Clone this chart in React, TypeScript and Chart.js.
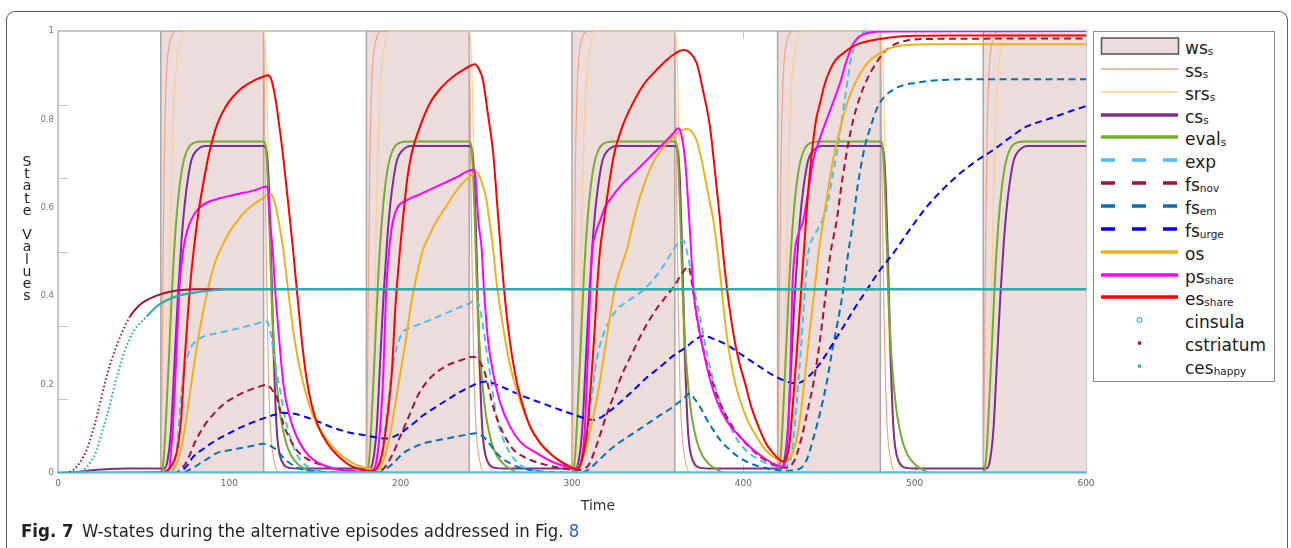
import React, { useEffect, useRef } from "react";
import { Chart, registerables } from "chart.js";

Chart.register(...registerables);

type P = [number, number];

// ---------- axis ticks ----------
const timeTicks = [0, 100, 200, 300, 400, 500, 600];
const valueTicks = [0, 0.2, 0.4, 0.6, 0.8, 1];
const valueTickLabels = ["0", "0.2", "0.4", "0.6", "0.8", "1"];
const valueMinorTicks = [0.167, 0.333, 0.5, 0.667, 0.833];
const timeMinorTicks = [100, 200, 300, 400, 500];

// ---------- series (time, value) ----------
const wsValues: P[] = [
  [0, 0], [60, 1], [120, 0], [180, 1], [240, 0], [300, 1], [360, 0], [420, 1], [480, 0], [540, 1], [600, 1],
];

const ssValues: P[] = [
  [0, 0], [60, 0], [61, 0.35], [62, 0.7], [63, 0.87], [64, 0.94], [66, 0.985], [69, 1], [120, 1], [121, 0.65], [122, 0.38], [123, 0.2], [124, 0.1], [126, 0.03], [129, 0],
  [180, 0], [181, 0.35], [182, 0.7], [183, 0.87], [184, 0.94], [186, 0.985], [189, 1], [240, 1], [241, 0.65], [242, 0.38], [243, 0.2], [244, 0.1], [246, 0.03], [249, 0],
  [300, 0], [301, 0.35], [302, 0.7], [303, 0.87], [304, 0.94], [306, 0.985], [309, 1], [360, 1], [361, 0.65], [362, 0.38], [363, 0.2], [364, 0.1], [366, 0.03], [369, 0],
  [420, 0], [421, 0.35], [422, 0.7], [423, 0.87], [424, 0.94], [426, 0.985], [429, 1], [480, 1], [481, 0.65], [482, 0.38], [483, 0.2], [484, 0.1], [486, 0.03], [489, 0],
  [540, 0], [541, 0.35], [542, 0.7], [543, 0.87], [544, 0.94], [546, 0.985], [549, 1], [600, 1],
];

const srsValues: P[] = [
  [0, 0], [60, 0], [62, 0.03], [64, 0.2], [65, 0.42], [66, 0.62], [67, 0.77], [69, 0.92], [71, 0.97], [74, 1], [120, 1], [121, 0.97], [122, 0.85], [123, 0.65], [124, 0.45], [125, 0.3], [127, 0.13], [129, 0.05], [132, 0.01], [135, 0],
  [180, 0], [182, 0.03], [184, 0.2], [185, 0.42], [186, 0.62], [187, 0.77], [189, 0.92], [191, 0.97], [194, 1], [240, 1], [241, 0.97], [242, 0.85], [243, 0.65], [244, 0.45], [245, 0.3], [247, 0.13], [249, 0.05], [252, 0.01], [255, 0],
  [300, 0], [302, 0.03], [304, 0.2], [305, 0.42], [306, 0.62], [307, 0.77], [309, 0.92], [311, 0.97], [314, 1], [360, 1], [361, 0.97], [362, 0.85], [363, 0.65], [364, 0.45], [365, 0.3], [367, 0.13], [369, 0.05], [372, 0.01], [375, 0],
  [420, 0], [422, 0.03], [424, 0.2], [425, 0.42], [426, 0.62], [427, 0.77], [429, 0.92], [431, 0.97], [434, 1], [480, 1], [481, 0.97], [482, 0.85], [483, 0.65], [484, 0.45], [485, 0.3], [487, 0.13], [489, 0.05], [492, 0.01], [495, 0],
  [540, 0], [542, 0.03], [544, 0.2], [545, 0.42], [546, 0.62], [547, 0.77], [549, 0.92], [551, 0.97], [554, 1], [600, 1],
];

const csValues: P[] = [
  [0, 0], [10, 0.002], [20, 0.006], [30, 0.009], [40, 0.01],
  [62, 0.01], [64, 0.03], [66, 0.1], [68, 0.25], [70, 0.4], [72, 0.52], [74, 0.61], [76, 0.67], [78, 0.71], [81, 0.73], [86, 0.74], [120, 0.74], [121, 0.737], [122, 0.72], [123, 0.66], [124, 0.54], [125, 0.4], [126, 0.26], [127, 0.15], [128, 0.08], [129.5, 0.04], [132, 0.018], [136, 0.011], [140, 0.01],
  [182, 0.01], [184, 0.03], [186, 0.1], [188, 0.25], [190, 0.4], [192, 0.52], [194, 0.61], [196, 0.67], [198, 0.71], [201, 0.73], [206, 0.74], [240, 0.74], [241, 0.737], [242, 0.72], [243, 0.66], [244, 0.54], [245, 0.4], [246, 0.26], [247, 0.15], [248, 0.08], [249.5, 0.04], [252, 0.018], [256, 0.011], [260, 0.01],
  [302, 0.01], [304, 0.03], [306, 0.1], [308, 0.25], [310, 0.4], [312, 0.52], [314, 0.61], [316, 0.67], [318, 0.71], [321, 0.73], [326, 0.74], [360, 0.74], [361, 0.737], [362, 0.72], [363, 0.66], [364, 0.54], [365, 0.4], [366, 0.26], [367, 0.15], [368, 0.08], [369.5, 0.04], [372, 0.018], [376, 0.011], [380, 0.01],
  [422, 0.01], [424, 0.03], [426, 0.1], [428, 0.25], [430, 0.4], [432, 0.52], [434, 0.61], [436, 0.67], [438, 0.71], [441, 0.73], [446, 0.74], [480, 0.74], [481, 0.737], [482, 0.72], [483, 0.66], [484, 0.54], [485, 0.4], [486, 0.26], [487, 0.15], [488, 0.08], [489.5, 0.04], [492, 0.018], [496, 0.011], [500, 0.01],
  [542, 0.01], [544, 0.03], [546, 0.1], [548, 0.25], [550, 0.4], [552, 0.52], [554, 0.61], [556, 0.67], [558, 0.71], [561, 0.73], [566, 0.74], [600, 0.74],
];

const evalValues: P[] = [
  [0, 0], [60, 0], [61, 0.01], [62, 0.05], [63, 0.12], [65, 0.28], [67, 0.45], [69, 0.57], [71, 0.65], [73, 0.7], [76, 0.735], [80, 0.748], [85, 0.75], [120, 0.75], [121, 0.745], [122, 0.7], [123, 0.6], [124, 0.48], [125, 0.37], [126, 0.29], [128, 0.19], [130, 0.125], [133, 0.07], [136, 0.04], [140, 0.02], [145, 0.007], [150, 0],
  [180, 0], [181, 0.01], [182, 0.05], [183, 0.12], [185, 0.28], [187, 0.45], [189, 0.57], [191, 0.65], [193, 0.7], [196, 0.735], [200, 0.748], [205, 0.75], [240, 0.75], [241, 0.745], [242, 0.7], [243, 0.6], [244, 0.48], [245, 0.37], [246, 0.29], [248, 0.19], [250, 0.125], [253, 0.07], [256, 0.04], [260, 0.02], [265, 0.007], [270, 0],
  [300, 0], [301, 0.01], [302, 0.05], [303, 0.12], [305, 0.28], [307, 0.45], [309, 0.57], [311, 0.65], [313, 0.7], [316, 0.735], [320, 0.748], [325, 0.75], [360, 0.75], [361, 0.745], [362, 0.7], [363, 0.6], [364, 0.48], [365, 0.37], [366, 0.29], [368, 0.19], [370, 0.125], [373, 0.07], [376, 0.04], [380, 0.02], [385, 0.007], [390, 0],
  [420, 0], [421, 0.01], [422, 0.05], [423, 0.12], [425, 0.28], [427, 0.45], [429, 0.57], [431, 0.65], [433, 0.7], [436, 0.735], [440, 0.748], [445, 0.75], [480, 0.75], [481, 0.745], [482, 0.7], [483, 0.6], [484, 0.48], [485, 0.37], [486, 0.29], [488, 0.19], [490, 0.125], [493, 0.07], [496, 0.04], [500, 0.02], [505, 0.007], [510, 0],
  [540, 0], [541, 0.01], [542, 0.05], [543, 0.12], [545, 0.28], [547, 0.45], [549, 0.57], [551, 0.65], [553, 0.7], [556, 0.735], [560, 0.748], [565, 0.75], [600, 0.75],
];

const expValues: P[] = [
  [0, 0], [66, 0], [68, 0.02], [70, 0.08], [72, 0.18], [74, 0.24], [77, 0.28], [81, 0.3], [86, 0.31], [95, 0.318], [105, 0.327], [115, 0.337], [121.5, 0.343], [123, 0.335], [125.7, 0.278], [127.5, 0.23], [129.6, 0.188], [132, 0.135], [135.4, 0.082], [139, 0.045], [143.2, 0.022], [150, 0.007], [160, 0.002], [180, 0],
  [186, 0.005], [188, 0.02], [191, 0.1], [194.8, 0.226], [197.5, 0.28], [200.6, 0.315], [204.5, 0.327], [210, 0.335], [217, 0.346], [225, 0.359], [232.7, 0.372], [239, 0.382], [244.4, 0.391], [246, 0.375], [248.2, 0.331], [250, 0.28], [252.1, 0.226], [254, 0.175], [256, 0.127], [260, 0.075], [263.8, 0.045], [267.7, 0.025], [271.6, 0.014], [280, 0.004], [300, 0],
  [303, 0.005], [305, 0.02], [308, 0.08], [311, 0.16], [314.4, 0.256], [318, 0.31], [322, 0.345], [326, 0.369], [333, 0.39], [341.6, 0.414], [350, 0.45], [356, 0.485], [359.1, 0.505], [362, 0.52], [364.8, 0.527], [366.5, 0.51], [368.9, 0.467], [371.5, 0.41], [374.7, 0.354], [377.5, 0.295], [380.5, 0.24], [384, 0.19], [388.3, 0.143], [393, 0.1], [398, 0.067], [404, 0.043], [409.7, 0.029], [415, 0.019], [419.5, 0.015], [423, 0.013],
  [425, 0.015], [428, 0.04], [431, 0.15], [432, 0.203], [434, 0.3], [436, 0.416], [438, 0.5], [441, 0.535], [444, 0.555], [448.6, 0.6], [451.5, 0.66], [454.5, 0.723], [457.5, 0.8], [460.3, 0.874], [463, 0.94], [466.2, 0.98], [469, 0.995], [473, 1], [600, 1],
];

const fsNovValues: P[] = [
  [0, 0], [68, 0], [70, 0.003], [75, 0.025], [80, 0.07], [85, 0.105], [90, 0.13], [95, 0.15], [100, 0.165], [106, 0.178], [112, 0.188], [118, 0.196], [121, 0.199], [123.5, 0.195], [125.5, 0.185], [127.6, 0.173], [129.5, 0.145], [131.5, 0.112], [135, 0.08], [139.3, 0.052], [145, 0.033], [151, 0.022], [158, 0.013], [166.5, 0.007], [175, 0.004], [185, 0.002],
  [190, 0.01], [195, 0.04], [200, 0.085], [205, 0.13], [210, 0.175], [215, 0.205], [220, 0.225], [227, 0.243], [235, 0.255], [242.4, 0.263], [245.5, 0.255], [249.2, 0.226], [251.5, 0.19], [254, 0.15], [257.5, 0.11], [261.9, 0.075], [266, 0.052], [271.6, 0.037], [278, 0.026], [285.2, 0.018], [292, 0.012], [299, 0.008], [304, 0.007],
  [307, 0.01], [310, 0.02], [315, 0.07], [320, 0.13], [325, 0.18], [330, 0.23], [335, 0.27], [340, 0.31], [345, 0.345], [350, 0.375], [355, 0.4], [360, 0.425], [364, 0.45], [368, 0.467], [370, 0.43], [372.8, 0.354], [375.5, 0.3], [378.6, 0.248], [382.5, 0.2], [386.4, 0.158], [392, 0.115], [398, 0.082], [404, 0.057], [409.7, 0.037], [415, 0.024], [421, 0.015],
  [425, 0.012], [430, 0.03], [434, 0.08], [438, 0.15], [440.9, 0.203], [444, 0.28], [447, 0.37], [450.6, 0.49], [454.5, 0.572], [458, 0.67], [461, 0.74], [464.2, 0.8], [468, 0.85], [472, 0.889], [476, 0.918], [481.7, 0.95], [485, 0.962], [489.5, 0.972], [495, 0.978], [505, 0.982], [600, 0.983],
];

const fsEmValues: P[] = [
  [0, 0], [72, 0], [75, 0.004], [79, 0.012], [83, 0.022], [88, 0.034], [92.6, 0.045], [99, 0.051], [106, 0.056], [113, 0.061], [119.8, 0.066], [123, 0.063], [127.6, 0.052], [131, 0.037], [135.4, 0.022], [139, 0.013], [143, 0.008], [150, 0.004], [160, 0.002], [180, 0.001],
  [187, 0.002], [190, 0.006], [195, 0.02], [201.5, 0.045], [207, 0.057], [213.2, 0.067], [220, 0.073], [226.9, 0.078], [235, 0.084], [244.4, 0.09], [247, 0.085], [250.2, 0.075], [253, 0.06], [256, 0.045], [260, 0.031], [263.8, 0.022], [267.5, 0.015], [271.6, 0.01], [280, 0.004], [290, 0.002], [305, 0.001],
  [308, 0.004], [311, 0.012], [316, 0.03], [322, 0.052], [328, 0.07], [335, 0.088], [341.6, 0.105], [350, 0.127], [359.1, 0.15], [364, 0.165], [368.9, 0.18], [371.5, 0.168], [374.7, 0.15], [378.5, 0.122], [382.5, 0.097], [387, 0.072], [392.2, 0.052], [398, 0.034], [403.9, 0.022], [410, 0.014], [417.5, 0.008], [425, 0.005],
  [433, 0.01], [437, 0.03], [441, 0.08], [445, 0.14], [448.6, 0.203], [452, 0.28], [455, 0.34], [458.4, 0.416], [461.3, 0.5], [464.2, 0.572], [466, 0.63], [468, 0.68], [471, 0.74], [474, 0.78], [478, 0.825], [482, 0.85], [487.5, 0.867], [493, 0.877], [499.2, 0.882], [508, 0.887], [516.7, 0.889], [530, 0.891], [600, 0.891],
];

const fsUrgeValues: P[] = [
  [0, 0], [68, 0], [71, 0.003], [75, 0.015], [79, 0.037], [85, 0.055], [92.6, 0.075], [100, 0.09], [106, 0.102], [112, 0.112], [118, 0.121], [124, 0.129], [131.5, 0.136], [138, 0.134], [145, 0.126], [152, 0.116], [158.8, 0.105], [165, 0.097], [172, 0.09], [178.2, 0.086], [185, 0.081], [191.8, 0.078],
  [197, 0.084], [202, 0.096], [207.4, 0.112], [213, 0.13], [220, 0.148], [226.9, 0.165], [234, 0.182], [240.5, 0.195], [245, 0.203], [250.2, 0.207], [256, 0.2], [262, 0.19], [267.7, 0.18], [276, 0.167], [285.2, 0.154], [293, 0.143], [302.7, 0.13], [308, 0.123], [312.4, 0.12],
  [317, 0.126], [322, 0.14], [327, 0.156], [331.9, 0.173], [338, 0.195], [344, 0.217], [351.4, 0.24], [359, 0.265], [367, 0.286], [372, 0.302], [376.6, 0.31], [383, 0.303], [390.3, 0.29], [400, 0.265], [409.7, 0.24], [417, 0.222], [425.3, 0.207], [430, 0.203],
  [434, 0.206], [439, 0.222], [444.8, 0.248], [451, 0.285], [458.4, 0.331], [465, 0.373], [472, 0.414], [479, 0.455], [487.5, 0.497], [497, 0.55], [507, 0.602], [516, 0.64], [526.5, 0.678], [536, 0.706], [545.9, 0.731], [555, 0.757], [565.4, 0.784], [575, 0.797], [584.8, 0.81], [592, 0.82], [600, 0.83],
];

const osValues: P[] = [
  [0, 0], [66, 0], [68, 0.01], [71, 0.04], [74, 0.1], [77, 0.18], [80, 0.26], [83, 0.33], [86, 0.39], [89, 0.44], [92, 0.48], [96, 0.515], [100, 0.545], [105, 0.572], [110, 0.595], [115, 0.61], [120, 0.623], [123.5, 0.632], [125, 0.628], [127, 0.605], [129, 0.565], [131.5, 0.505], [133.5, 0.44], [136, 0.36], [139, 0.28], [143, 0.205], [147, 0.15], [151, 0.11], [157, 0.075], [163, 0.048], [170, 0.027], [178, 0.013],
  [186, 0.008], [188, 0.012], [191, 0.04], [194, 0.09], [197, 0.16], [200, 0.23], [203, 0.3], [206, 0.38], [209, 0.44], [213, 0.505], [217, 0.54], [221, 0.57], [226, 0.6], [231, 0.63], [236, 0.655], [241, 0.673], [244.4, 0.68], [246, 0.672], [248, 0.65], [250, 0.62], [252, 0.565], [254, 0.505], [256, 0.43], [259, 0.35], [262, 0.28], [265, 0.225], [270, 0.16], [275, 0.11], [281, 0.07], [287, 0.045], [293, 0.027], [299, 0.015], [303, 0.012],
  [306, 0.03], [309, 0.07], [312, 0.12], [316, 0.2], [320, 0.3], [325, 0.416], [329, 0.47], [332, 0.505], [336, 0.572], [341, 0.64], [347, 0.7], [352, 0.73], [357, 0.753], [362, 0.77], [367, 0.778], [370, 0.772], [373, 0.75], [376.6, 0.69], [380, 0.62], [382.5, 0.572], [385, 0.5], [387, 0.43], [390, 0.32], [394, 0.225], [398, 0.165], [403, 0.115], [408, 0.08], [413, 0.052], [418, 0.035], [423, 0.026],
  [426, 0.03], [430, 0.06], [433, 0.12], [436, 0.22], [439, 0.33], [442, 0.43], [444, 0.5], [446.7, 0.572], [449, 0.63], [452.5, 0.71], [456, 0.77], [460, 0.83], [465, 0.88], [470, 0.915], [475, 0.937], [480, 0.95], [487, 0.963], [495, 0.968], [510, 0.97], [600, 0.97],
];

const psValues: P[] = [
  [0, 0], [63, 0], [65, 0.01], [66, 0.05], [67, 0.1], [68.3, 0.2], [69.5, 0.3], [70.8, 0.416], [72, 0.47], [73.5, 0.515], [75.5, 0.55], [78, 0.575], [82, 0.598], [87, 0.612], [95, 0.622], [105, 0.631], [115, 0.64], [121.5, 0.648], [122.5, 0.64], [123.7, 0.572], [125.3, 0.505], [126.7, 0.416], [128.5, 0.33], [131.5, 0.203], [135, 0.13], [139.3, 0.082], [144, 0.05], [149, 0.03], [156, 0.016], [163, 0.008], [172, 0.004], [180, 0.003],
  [184, 0.007], [186, 0.03], [188, 0.1], [189.9, 0.226], [191.4, 0.4], [193.4, 0.51], [195.5, 0.57], [198, 0.6], [203.5, 0.617], [212, 0.632], [222, 0.65], [232, 0.668], [242.4, 0.686], [243.5, 0.675], [245.3, 0.572], [247.3, 0.505], [248.6, 0.416], [251, 0.3], [254, 0.226], [258, 0.16], [263.8, 0.105], [270, 0.07], [279.4, 0.045], [288, 0.026], [297, 0.014], [301, 0.01],
  [304, 0.012], [306, 0.04], [307.5, 0.1], [308.6, 0.2], [309.6, 0.3], [310.5, 0.4], [311.8, 0.5], [314, 0.545], [316.5, 0.572], [319, 0.6], [322, 0.618], [328, 0.648], [335, 0.675], [341.6, 0.7], [348, 0.725], [355.3, 0.753], [359, 0.768], [362, 0.78], [363.5, 0.77], [366, 0.708], [368, 0.6], [369.5, 0.505], [370.8, 0.416], [373.5, 0.34], [376.6, 0.278], [380, 0.22], [384.4, 0.165], [390, 0.12], [398, 0.082], [405, 0.055], [413.6, 0.03], [418, 0.02], [422.4, 0.014],
  [424, 0.02], [425.5, 0.06], [426.5, 0.13], [427.2, 0.2], [428, 0.32], [428.6, 0.416], [430.2, 0.505], [432.5, 0.545], [435, 0.572], [438, 0.64], [440.8, 0.708], [444.5, 0.755], [448.6, 0.799], [452.5, 0.84], [456.4, 0.882], [460, 0.93], [464.2, 0.972], [468, 0.988], [472, 0.995], [480, 0.999], [600, 1],
];

const esValues: P[] = [
  [0, 0], [60, 0.002], [65, 0.01], [68, 0.03], [70, 0.06], [72, 0.13], [74, 0.26], [76, 0.37], [78, 0.46], [80, 0.53], [82, 0.59], [85, 0.66], [88, 0.72], [93, 0.79], [98, 0.83], [103, 0.855], [108, 0.873], [114, 0.887], [120, 0.897], [122.5, 0.9], [124.5, 0.89], [127, 0.845], [129, 0.79], [131, 0.73], [133, 0.66], [135.4, 0.572], [137.2, 0.505], [139, 0.43], [141, 0.35], [143, 0.275], [145, 0.215], [148, 0.155], [152, 0.105], [157, 0.068], [163, 0.04], [170, 0.018], [178, 0.007], [183, 0.004],
  [186, 0.01], [189, 0.04], [192, 0.12], [194.8, 0.226], [197, 0.38], [199.6, 0.505], [202, 0.6], [204, 0.67], [206.4, 0.723], [210, 0.77], [217, 0.836], [224, 0.873], [230.7, 0.897], [237, 0.913], [243.4, 0.925], [245.5, 0.915], [248, 0.889], [251, 0.81], [254, 0.723], [256.5, 0.6], [258.4, 0.505], [260, 0.43], [263, 0.32], [266.7, 0.226], [270, 0.17], [275.5, 0.105], [281, 0.07], [287, 0.045], [293, 0.027], [299, 0.014], [302.7, 0.008],
  [305, 0.02], [307, 0.05], [309, 0.1], [311, 0.2], [313, 0.31], [314.6, 0.416], [316.4, 0.505], [318.7, 0.572], [321.5, 0.65], [324.5, 0.72], [330, 0.79], [335.6, 0.837], [342, 0.88], [349.4, 0.912], [357, 0.94], [365, 0.957], [368.5, 0.952], [372.8, 0.927], [376.5, 0.865], [380.5, 0.784], [383.5, 0.68], [386.4, 0.572], [388, 0.505], [390.5, 0.416], [394, 0.32], [397, 0.26], [401, 0.203], [405, 0.145], [409.7, 0.097], [413.5, 0.065], [417.4, 0.045], [420.5, 0.032], [423, 0.026],
  [425, 0.032], [427, 0.07], [429, 0.16], [431.3, 0.278], [433.5, 0.4], [435.4, 0.505], [437.5, 0.62], [440, 0.725], [442.5, 0.8], [444.8, 0.837], [447.5, 0.88], [450.6, 0.912], [454, 0.935], [458.4, 0.95], [463, 0.963], [468, 0.972], [474, 0.978], [479.8, 0.982], [487, 0.986], [500, 0.989], [520, 0.99], [600, 0.99],
];

const cinsulaValues: P[] = [[0, 0], [600, 0]];

const cstriatumValues: P[] = [
  [0, 0], [5, 0], [9, 0.007], [13, 0.025], [16.7, 0.052], [20, 0.09], [22.6, 0.127], [25, 0.165], [27.4, 0.203], [30, 0.24], [33.3, 0.278], [37, 0.315], [42, 0.354], [47, 0.378], [51.8, 0.391], [58, 0.402], [65.4, 0.41], [72, 0.414], [80, 0.416], [600, 0.416],
];

const ceshappyValues: P[] = [
  [0, 0], [10, 0], [14.6, 0.006], [19, 0.025], [22.6, 0.052], [25.5, 0.09], [28.4, 0.127], [31, 0.165], [33.3, 0.203], [36, 0.24], [39.1, 0.278], [44, 0.32], [51.8, 0.354], [57, 0.375], [63.4, 0.391], [72, 0.403], [82.9, 0.41], [92, 0.414], [100, 0.416], [600, 0.416],
];

// ---------- legend (label + subscript) ----------
const legendLabels: [string, string][] = [
  ["ws", "s"], ["ss", "s"], ["srs", "s"], ["cs", "s"], ["eval", "s"], ["exp", ""], ["fs", "nov"], ["fs", "em"], ["fs", "urge"],
  ["os", ""], ["ps", "share"], ["es", "share"], ["cinsula", ""], ["cstriatum", ""], ["ces", "happy"],
];

type Sample = { kind: "box" | "line" | "dash" | "circle" | "dot"; color: string; width?: number };
const legendSamples: Sample[] = [
  { kind: "box", color: "#eddcdc" },
  { kind: "line", color: "#f2a286", width: 1.5 },
  { kind: "line", color: "#fbd08c", width: 1.5 },
  { kind: "line", color: "#7E2F8E", width: 3.5 },
  { kind: "line", color: "#77AC30", width: 3.5 },
  { kind: "dash", color: "#4DBEEE", width: 3.5 },
  { kind: "dash", color: "#A2142F", width: 3.5 },
  { kind: "dash", color: "#0072BD", width: 3.5 },
  { kind: "dash", color: "#0000FF", width: 3.5 },
  { kind: "line", color: "#EDB120", width: 3.5 },
  { kind: "line", color: "#FF00FF", width: 3.5 },
  { kind: "line", color: "#FF0000", width: 3.5 },
  { kind: "circle", color: "#4DBEEE" },
  { kind: "dot", color: "#A2142F" },
  { kind: "dot", color: "#1FB5B5" },
];

const framePlugin = {
  id: "framePlugin",
  beforeDatasetsDraw(chart: any) {
    const { ctx, chartArea: a, scales } = chart;
    ctx.save();
    ctx.strokeStyle = "#b6b6b6";
    ctx.lineWidth = 1.5;
    ctx.strokeRect(a.left, a.top, a.right - a.left, a.bottom - a.top);
    ctx.strokeStyle = "#c4c4c4";
    ctx.lineWidth = 1;
    for (const v of valueMinorTicks) {
      const y = Math.round(scales.y.getPixelForValue(v)) + 0.5;
      ctx.beginPath();
      ctx.moveTo(a.left, y);
      ctx.lineTo(a.left + 10, y);
      ctx.stroke();
    }
    for (const t of timeMinorTicks) {
      const x = Math.round(scales.x.getPixelForValue(t)) + 0.5;
      ctx.beginPath();
      ctx.moveTo(x, a.top);
      ctx.lineTo(x, a.top + 8);
      ctx.moveTo(x, a.bottom);
      ctx.lineTo(x, a.bottom - 8);
      ctx.stroke();
    }
    ctx.restore();
  },
};

const FONT = "'DejaVu Sans', Verdana, sans-serif";
const CAPTION_FONT = "'DejaVu Sans Condensed', 'DejaVu Sans', sans-serif";

function LegendSample({ s }: { s: Sample }) {
  if (s.kind === "box")
    return (
      <svg width={80} height={20} style={{ display: "block" }}>
        <rect x={1.5} y={2} width={77} height={16} fill={s.color} stroke="#555" strokeWidth={1.5} />
      </svg>
    );
  if (s.kind === "circle")
    return (
      <svg width={80} height={20} style={{ display: "block" }}>
        <circle cx={39.5} cy={10} r={2.3} fill="none" stroke={s.color} strokeWidth={1.4} />
      </svg>
    );
  if (s.kind === "dot")
    return (
      <svg width={80} height={20} style={{ display: "block" }}>
        <rect x={38} y={8.5} width={3.2} height={3.2} fill={s.color} />
      </svg>
    );
  return (
    <svg width={80} height={20} style={{ display: "block" }}>
      <line
        x1={1}
        y1={10}
        x2={78}
        y2={10}
        stroke={s.color}
        strokeWidth={s.width}
        strokeDasharray={s.kind === "dash" ? "14 17" : undefined}
      />
    </svg>
  );
}

export default function App() {
  const ref = useRef<HTMLCanvasElement>(null);

  useEffect(() => {
    const canvas = ref.current;
    if (!canvas) return;
    const xy = (pts: P[]) => pts.map(([x, y]) => ({ x, y }));
    const mk = (label: string, pts: P[], color: string, width: number, order: number, dash: number[] = []) => ({
      label,
      data: xy(pts),
      borderColor: color,
      backgroundColor: color,
      borderWidth: width,
      borderDash: dash,
      pointRadius: 0,
      fill: false,
      cubicInterpolationMode: "monotone" as const,
      order,
    });
    const DASH = [7, 4.5];
    const datasets: any[] = [
      {
        ...mk("ceshappy", ceshappyValues, "#22b0b0", 2.2, 1),
        segment: { borderDash: (c: any) => (c.p0.parsed.x < 46 ? [1.5, 2.4] : []) },
      },
      {
        ...mk("cstriatum", cstriatumValues, "#A2142F", 2, 2),
        segment: { borderDash: (c: any) => (c.p0.parsed.x < 40 ? [1.5, 2.4] : []) },
      },
      mk("cinsula", cinsulaValues, "#4DBEEE", 3.5, 3),
      mk("es_share", esValues, "#FF0000", 2, 4),
      mk("ps_share", psValues, "#FF00FF", 2, 5),
      mk("os", osValues, "#EDB120", 2, 6),
      mk("fs_urge", fsUrgeValues, "#0000FF", 2, 7, DASH),
      mk("fs_em", fsEmValues, "#0072BD", 2, 8, DASH),
      mk("fs_nov", fsNovValues, "#A2142F", 2, 9, DASH),
      mk("exp", expValues, "#4DBEEE", 2, 10, DASH),
      mk("eval_s", evalValues, "#77AC30", 2, 11),
      mk("cs_s", csValues, "#7E2F8E", 2, 12),
      mk("srs_s", srsValues, "#fcd192", 1.2, 13),
      mk("ss_s", ssValues, "#f1a487", 1.2, 14),
      {
        label: "ws_s",
        data: xy(wsValues),
        stepped: true,
        fill: "origin",
        backgroundColor: "#eddcdc",
        borderColor: "#a8a8a8",
        borderWidth: 1.5,
        pointRadius: 0,
        order: 100,
      },
    ];

    const chart = new Chart(canvas, {
      type: "line",
      data: { datasets },
      options: {
        animation: false,
        responsive: false,
        events: [],
        layout: { padding: { left: 8, top: 31, right: 205, bottom: 0 } },
        plugins: { legend: { display: false }, tooltip: { enabled: false } },
        scales: {
          x: {
            type: "linear",
            min: 0,
            max: 600,
            afterBuildTicks: (s: any) => {
              s.ticks = timeTicks.map((v) => ({ value: v }));
            },
            afterFit: (s: any) => {
              s.height = 75;
            },
            ticks: { color: "#666", font: { size: 9, family: FONT }, padding: 5, maxRotation: 0, autoSkip: false },
            grid: { display: false, drawTicks: false },
            border: { display: false },
          },
          y: {
            type: "linear",
            min: 0,
            max: 1,
            afterBuildTicks: (s: any) => {
              s.ticks = valueTicks.map((v) => ({ value: v }));
            },
            afterFit: (s: any) => {
              s.width = 50;
            },
            ticks: {
              color: "#777",
              font: { size: 8.5, family: FONT },
              padding: 4,
              autoSkip: false,
              callback: (_v: any, i: number) => valueTickLabels[i],
            },
            grid: { display: false, drawTicks: false },
            border: { display: false },
          },
        },
      },
      plugins: [framePlugin],
    } as any);
    return () => chart.destroy();
  }, []);

  const yTitle = "State Values".split("");

  return (
    <div style={{ position: "absolute", left: 0, top: 0, width: 1291, height: 548, overflow: "hidden", background: "#fff" }}>
      <div
        style={{
          position: "absolute",
          left: 6,
          top: 11,
          width: 1282,
          height: 545,
          boxSizing: "border-box",
          border: "1.5px solid #5a5a5a",
          borderBottom: "none",
          borderRadius: "9px 9px 0 0",
        }}
      />
      <canvas ref={ref} width={1291} height={548} style={{ position: "absolute", left: 0, top: 0, width: 1291, height: 548 }} />
      <div style={{ position: "absolute", left: 20, top: 155, width: 14, fontFamily: FONT, fontSize: 14, color: "#222", textAlign: "center" }}>
        {yTitle.map((c, i) => (
          <div key={i} style={{ height: 12.2, lineHeight: "12.2px" }}>
            {c === " " ? "\u00a0" : c}
          </div>
        ))}
      </div>
      <div style={{ position: "absolute", left: 568, width: 60, top: 496, textAlign: "center", fontFamily: FONT, fontSize: 14, lineHeight: "18px", color: "#333" }}>
        Time
      </div>
      <div
        style={{
          position: "absolute",
          left: 1093,
          top: 31,
          width: 182,
          height: 351,
          boxSizing: "border-box",
          border: "1.5px solid #8c8c8c",
          background: "#fff",
        }}
      />
      {legendLabels.map(([main, sub], i) => {
        const cy = 46 + 22.85 * i;
        return (
          <React.Fragment key={i}>
            <div style={{ position: "absolute", left: 1100, top: cy - 10 }}>
              <LegendSample s={legendSamples[i]} />
            </div>
            <div
              style={{
                position: "absolute",
                left: 1185,
                top: cy - 10,
                fontFamily: FONT,
                fontSize: 17,
                lineHeight: "24px",
                color: "#1a1a1a",
                whiteSpace: "nowrap",
              }}
            >
              {main}
              {sub ? <span style={{ fontSize: 10.5, verticalAlign: "-1px" }}>{sub}</span> : null}
            </div>
          </React.Fragment>
        );
      })}
      <div
        style={{
          position: "absolute",
          left: 21,
          top: 519,
          lineHeight: "24px",
          color: "#231f20",
          whiteSpace: "nowrap",
          fontFamily: CAPTION_FONT,
        }}
      >
        <span style={{ display: "inline-block", width: 61, fontWeight: "bold", fontSize: 18.5 }}>Fig. 7</span>
        <span style={{ fontSize: 18.4 }}>
          W-states during the alternative episodes addressed in Fig. <span style={{ color: "#2b62c8" }}>8</span>
        </span>
      </div>
    </div>
  );
}
